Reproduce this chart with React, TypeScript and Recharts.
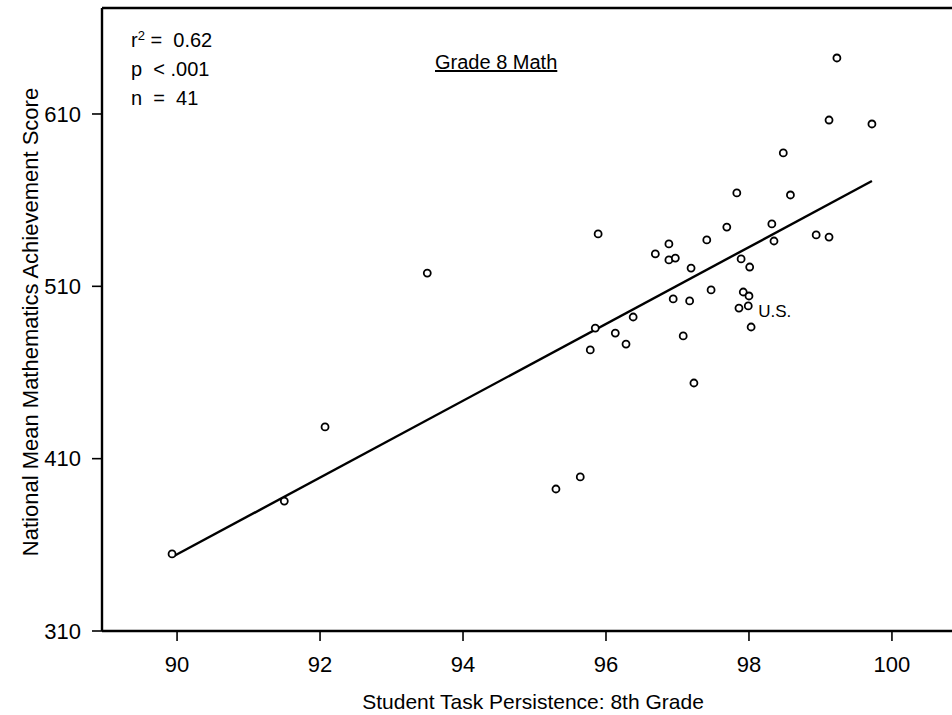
import React from 'react'
import {
  ReferenceDot,
  ReferenceLine,
  Scatter,
  ScatterChart,
  XAxis,
  YAxis,
} from 'recharts'

// Student task persistence (x) and national mean math score (y), one per country
const persistence = [
  89.93, 91.5, 92.07, 93.5, 95.3, 95.64, 95.89, 95.85, 95.78, 96.13, 96.28,
  96.38, 96.69, 96.88, 96.88, 96.97, 96.94, 97.19, 97.17, 97.08, 97.23, 97.41,
  97.47, 97.69, 97.83, 97.89, 98.01, 97.92, 98.0, 97.86, 97.99, 98.03, 98.32,
  98.35, 98.48, 98.58, 98.94, 99.12, 99.12, 99.23, 99.72,
]
const mathScore = [
  354.7, 385.4, 428.4, 517.7, 392.4, 399.4, 540.4, 485.8, 473.1, 482.9, 476.5,
  492.2, 528.8, 534.6, 525.3, 526.4, 502.7, 520.6, 501.5, 481.2, 453.9, 536.9,
  507.9, 544.4, 564.2, 525.9, 521.2, 506.7, 504.4, 497.4, 498.6, 486.4, 546.2,
  536.3, 587.4, 563.0, 539.8, 538.6, 606.5, 642.5, 604.2,
]

// regression line end points
const fitX = [89.93, 99.72]
const fitY = [352.9, 571.1]

// the U.S. point
const usPoint = { x: 97.99, y: 498.6 }

const xTicks = [90, 92, 94, 96, 98, 100]
const yTicks = [310, 410, 510, 610]
const xDomain = [88.95, 100.84]
const yDomain = [310, 671.5]

const points = persistence.map((x, i) => ({ x, y: mathScore[i] }))
const fitLine = fitX.map((x, i) => ({ x, y: fitY[i] }))

const FONT = '"Liberation Sans", Arial, Helvetica, sans-serif'

const OpenCircle = (props: any) => {
  const { cx, cy } = props
  return (
    <circle cx={cx} cy={cy} r={3.5} fill="#fff" stroke="#000" strokeWidth={1.8} />
  )
}

const NoShape = () => <g />

const UsLabel = (props: any) => {
  const { viewBox } = props
  return (
    <text
      x={viewBox.x + 10}
      y={viewBox.y + 11}
      fill="#000"
      fontSize={17}
      fontFamily={FONT}
    >
      U.S.
    </text>
  )
}

const textBase: React.CSSProperties = {
  position: 'absolute',
  fontFamily: FONT,
  color: '#000',
  whiteSpace: 'nowrap',
}

export default function App() {
  if (typeof document !== 'undefined') document.body.style.margin = '0'

  return (
    <div style={{ position: 'relative', width: 952, height: 715, background: '#fff' }}>
      <ScatterChart
        width={952}
        height={715}
        margin={{ top: 8, right: 0, bottom: 0, left: 0 }}
      >
        <XAxis
          type="number"
          dataKey="x"
          domain={xDomain}
          ticks={xTicks}
          allowDataOverflow
          height={84}
          tickSize={10}
          tickMargin={15}
          axisLine={{ stroke: '#000', strokeWidth: 2.4 }}
          tickLine={{ stroke: '#000', strokeWidth: 1.6 }}
          tick={{ fill: '#000', fontSize: 22, fontFamily: FONT }}
        />
        <YAxis
          type="number"
          dataKey="y"
          domain={yDomain}
          ticks={yTicks}
          allowDataOverflow
          width={102}
          tickSize={10}
          tickMargin={11}
          axisLine={{ stroke: '#000', strokeWidth: 2.4 }}
          tickLine={{ stroke: '#000', strokeWidth: 1.6 }}
          tick={{ fill: '#000', fontSize: 22, fontFamily: FONT }}
        />
        <ReferenceLine y={yDomain[1]} stroke="#000" strokeWidth={2.4} />
        <Scatter
          data={fitLine}
          line={{ stroke: '#000', strokeWidth: 2.4 }}
          shape={NoShape}
          isAnimationActive={false}
        />
        <Scatter data={points} shape={OpenCircle} isAnimationActive={false} />
        <ReferenceDot
          x={usPoint.x}
          y={usPoint.y}
          r={0}
          stroke="none"
          label={UsLabel}
        />
      </ScatterChart>

      <div style={{ ...textBase, left: 131, top: 30, fontSize: 20, lineHeight: '20px' }}>
        r<sup style={{ fontSize: 13, verticalAlign: 7, lineHeight: 0 }}>2</sup> = &nbsp;0.62
      </div>
      <div style={{ ...textBase, left: 131, top: 59, fontSize: 20, lineHeight: '20px' }}>
        p &nbsp;&lt; .001
      </div>
      <div style={{ ...textBase, left: 131, top: 88, fontSize: 20, lineHeight: '20px' }}>
        n &nbsp;= &nbsp;41
      </div>
      <div
        style={{
          ...textBase,
          left: 435,
          top: 52,
          fontSize: 20,
          lineHeight: '20px',
          textDecoration: 'underline',
        }}
      >
        Grade 8 Math
      </div>
      <div
        style={{
          ...textBase,
          left: 31,
          top: 322,
          fontSize: 22,
          lineHeight: '22px',
          transform: 'translate(-50%, -50%) rotate(-90deg)',
        }}
      >
        National Mean Mathematics Achievement Score
      </div>
      <div
        style={{
          ...textBase,
          left: 533,
          top: 701,
          fontSize: 21,
          lineHeight: '21px',
          transform: 'translate(-50%, -50%)',
        }}
      >
        Student Task Persistence: 8th Grade
      </div>
    </div>
  )
}
